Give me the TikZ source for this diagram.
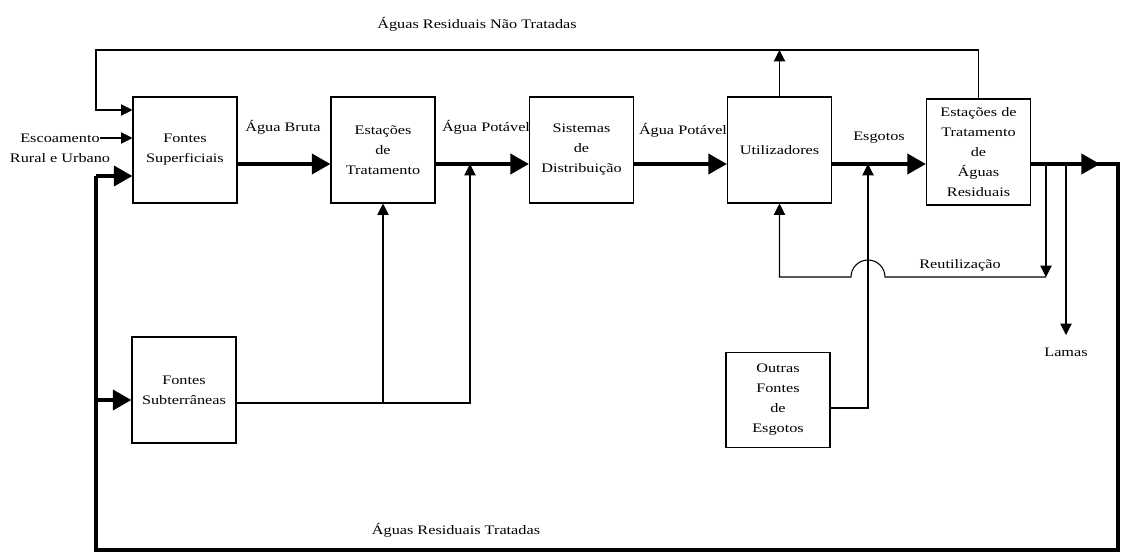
\documentclass[tikz,border=0pt]{standalone}
\usepackage{fontspec}
\setmainfont{Liberation Serif}[FakeStretch=1.25]
\usetikzlibrary{arrows.meta}

\tikzset{
  bloco/.style={draw, line width=0.8pt, minimum width=78pt, minimum height=79.5pt, inner sep=0pt, align=center, font=\fontsize{9.75}{15}\selectfont},
  rotulo/.style={inner sep=0pt, align=center, font=\fontsize{9.75}{15}\selectfont},
  fino/.style={line width=0.8pt},
  grosso/.style={line width=3pt},
  setafina/.style={-{Triangle[length=8.5pt,width=8.5pt]}},
  setagrossa/.style={-{Triangle[length=14pt,width=15pt]}},
}

\begin{document}
\begin{tikzpicture}[x=0.75pt,y=0.75pt,yscale=-1,xscale=1]
\useasboundingbox (0,0) rectangle (1122,557);

% Blocos
\node[bloco] (fs) at (185,150) {Fontes\\Superficiais};
\node[bloco] (eta) at (383,150) {Estações\\de\\Tratamento};
\node[bloco] (sd) at (581.5,150) {Sistemas\\de\\Distribuição};
\node[bloco] (ut) at (779.5,150) {Utilizadores};
\node[bloco] (etar) at (978.5,152) {Estações de\\Tratamento\\de\\Águas\\Residuais};
\node[bloco] (fsub) at (184,390) {Fontes\\Subterrâneas};
\node[bloco, minimum height=71.25pt] (ofe) at (778,400) {Outras\\Fontes\\de\\Esgotos};

% Coordenadas
\coordinate (linha) at (0,164);
\coordinate (laco) at (96,50);
\coordinate (canto) at (1118,164);
\coordinate (cinf) at (1118,550);
\coordinate (cesq) at (96,550);
\coordinate (esq) at (96,176);
\coordinate (sub) at (96,400);
\coordinate (escfim) at (100,138);
\coordinate (sub2) at (470,403);
\coordinate (esgj) at (868,408);
\coordinate (reu) at (1046,277);
\coordinate (lam) at (1066,335);

%Straight Lines (fluxo principal)
\draw[grosso, setagrossa] (fs.east |- linha) -- (eta.west |- linha);
\draw[grosso, setagrossa] (eta.east |- linha) -- (sd.west |- linha);
\draw[grosso, setagrossa] (sd.east |- linha) -- (ut.west |- linha);
\draw[grosso, setagrossa] (ut.east |- linha) -- (etar.west |- linha);
\draw[grosso] (etar.east |- linha) -- (canto) -- (cinf) -- (cesq) -- (esq);
\draw[grosso, setagrossa] (etar.east |- linha) -- (1100,164);
\draw[grosso, setagrossa] (esq) -- (esq -| fs.west);
\draw[grosso, setagrossa] (sub) -- (sub -| fsub.west);

%Straight Lines (aguas nao tratadas)
\draw[fino, setafina] (etar.north) |- (laco) |- (fs.west |- 0,110);
\draw[fino, setafina] (ut.north) -- (ut.north |- laco);

%Straight Lines (escoamento)
\draw[fino, setafina] (escfim) -- (escfim -| fs.west);

%Straight Lines (subterraneas)
\draw[fino, setafina] (fsub.east |- sub2) -| (sub2 |- linha);
\draw[fino, setafina] (eta.south |- sub2) -- (eta.south);

%Straight Lines (outras fontes)
\draw[fino, setafina] (ofe.east |- esgj) -| (esgj |- linha);

%Straight Lines (reutilizacao)
\draw[fino, setafina] (reu |- linha) -- (reu);
\draw[fino, setafina] (reu) -- ([xshift=12.75pt]esgj |- reu) arc[start angle=0, end angle=-180, radius=17] -- (ut.south |- reu) -- (ut.south);

%Straight Lines (lamas)
\draw[fino, setafina] (lam |- linha) -- (lam);

% Text Node
\node[rotulo] (lnt) at (477,24) {Águas Residuais Não Tratadas};
\node[rotulo] (esc) at (60,148) {Escoamento\\Rural e Urbano};
\node[rotulo] (lbruta) at (283,127) {Água Bruta};
\node[rotulo] (lpot1) at (486,127) {Água Potável};
\node[rotulo] (lpot2) at (683,130) {Água Potável};
\node[rotulo] (lesg) at (879,138) {Esgotos};
\node[rotulo] (lreu) at (960,265) {Reutilização};
\node[rotulo] (lamas) at (1066,352) {Lamas};
\node[rotulo] (lt) at (456,530) {Águas Residuais Tratadas};

\end{tikzpicture}
\end{document}
